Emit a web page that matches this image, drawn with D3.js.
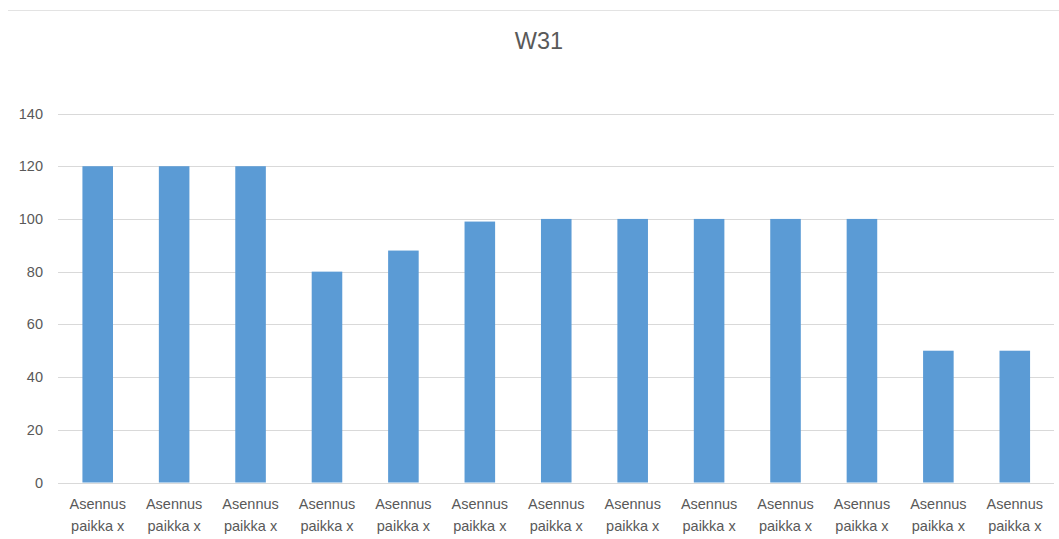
<!DOCTYPE html>
<html>
<head>
<meta charset="utf-8">
<script src="https://cdn.jsdelivr.net/npm/d3@7"></script>
<style>
  html, body { margin: 0; padding: 0; background: #ffffff; }
  svg { display: block; }
</style>
</head>
<body>
<svg id="chart" width="1059" height="539"></svg>
<script>
// Chart data
const chartTitle = "W31";
const categories = [
  "Asennus paikka x", "Asennus paikka x", "Asennus paikka x", "Asennus paikka x",
  "Asennus paikka x", "Asennus paikka x", "Asennus paikka x", "Asennus paikka x",
  "Asennus paikka x", "Asennus paikka x", "Asennus paikka x", "Asennus paikka x",
  "Asennus paikka x"
];
const values = [120, 120, 120, 80, 88, 99, 100, 100, 100, 100, 100, 50, 50];
const yTicks = [0, 20, 40, 60, 80, 100, 120, 140];

const W = 1059, H = 539;
const margin = { top: 113.5, right: 5, bottom: 56.5, left: 58 };
const fontFamily = "'Liberation Sans', Arial, sans-serif";
const textColor = "#595959";
const gridColor = "#d9d9d9";
const barColor = "#5b9bd5";

const svg = d3.select("#chart");

// Top border line of the chart area
svg.append("line")
  .attr("x1", 8).attr("x2", W).attr("y1", 10.5).attr("y2", 10.5)
  .attr("stroke", "#e3e3e3").attr("stroke-width", 1);

const x = d3.scaleBand()
  .domain(d3.range(categories.length))
  .range([59.5, 1053])
  .paddingInner(0.6)
  .paddingOuter(0.3);

const y = d3.scaleLinear()
  .domain([0, 140])
  .range([H - margin.bottom, margin.top]);

// Gridlines
svg.append("g")
  .selectAll("line")
  .data(yTicks)
  .join("line")
  .attr("x1", margin.left)
  .attr("x2", W - margin.right)
  .attr("y1", d => Math.round(y(d)) + 0.5)
  .attr("y2", d => Math.round(y(d)) + 0.5)
  .attr("stroke", gridColor)
  .attr("stroke-width", 1);

// Y axis labels
const yAxis = d3.axisLeft(y).tickValues(yTicks).tickSize(0).tickPadding(15);
const yg = svg.append("g")
  .attr("transform", `translate(${margin.left},0)`)
  .call(yAxis);
yg.select(".domain").remove();
yg.selectAll("text")
  .attr("fill", textColor)
  .style("font-family", fontFamily)
  .style("font-size", "14.5px");

// Bars
svg.append("g")
  .selectAll("rect")
  .data(values)
  .join("rect")
  .attr("x", (d, i) => x(i))
  .attr("width", x.bandwidth())
  .attr("y", d => y(d))
  .attr("height", d => y(0) - y(d))
  .attr("fill", barColor);

// X axis category labels (two lines each)
const xAxis = d3.axisBottom(x).tickSize(0).tickFormat(i => categories[i]);
const xg = svg.append("g")
  .attr("transform", `translate(0,${y(0)})`)
  .call(xAxis);
xg.select(".domain").remove();
xg.selectAll("text").each(function (i) {
  const t = d3.select(this);
  const words = categories[i].split(" ");
  const lines = [words[0], words.slice(1).join(" ")];
  t.text(null)
    .attr("y", 0)
    .attr("dy", null)
    .attr("fill", textColor)
    .style("font-family", fontFamily)
    .style("font-size", "14.5px");
  lines.forEach((ln, k) => {
    t.append("tspan")
      .attr("x", 0)
      .attr("y", 26.5 + k * 21.5)
      .text(ln);
  });
});

// Title
svg.append("text")
  .attr("x", 539)
  .attr("y", 49)
  .attr("text-anchor", "middle")
  .attr("fill", textColor)
  .style("font-family", fontFamily)
  .style("font-size", "23.5px")
  .text(chartTitle);
</script>
</body>
</html>
